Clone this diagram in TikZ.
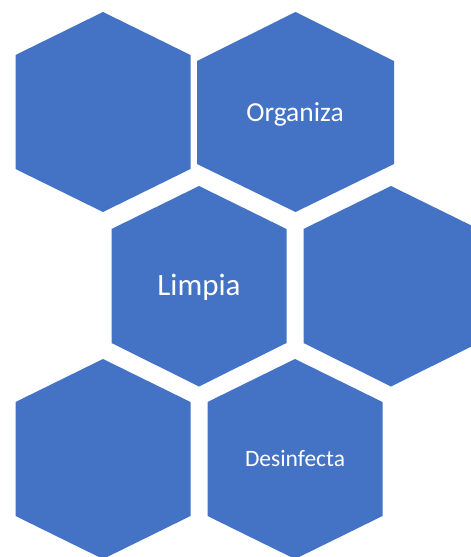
\documentclass[tikz,border=0pt]{standalone}
\usepackage{fontspec}
\setmainfont{Carlito}
\definecolor{hexblue}{HTML}{4472C4}
\begin{document}
\begin{tikzpicture}[x=1pt,y=1pt]
    \tikzstyle{every node}+=[inner sep=0pt, anchor=base, text=white]
    \clip (0,0) rectangle (471,-557);
    \fill [white] (0,0) rectangle (471,-557);
    \fill [hexblue] (103,-12) -- (190.5,-55) -- (190.5,-169) -- (103,-212) -- (15.5,-169) -- (15.5,-55) -- cycle;
    \fill [hexblue] (295.5,-12) -- (394,-61) -- (394,-164) -- (295.5,-212) -- (197,-164) -- (197,-61) -- cycle;
    \draw (295,-121) node (organiza) {\fontsize{27.5}{30}\selectfont Organiza};
    \fill [hexblue] (199,-186) -- (286.5,-229) -- (286.5,-343) -- (199,-386.5) -- (111.5,-343) -- (111.5,-229) -- cycle;
    \draw (199,-295) node (limpia) {\fontsize{31}{34}\selectfont Limpia};
    \fill [hexblue] (391,-186) -- (478.5,-229) -- (478.5,-343) -- (391,-386.5) -- (303.5,-343) -- (303.5,-229) -- cycle;
    \fill [hexblue] (103,-359) -- (190.5,-402) -- (190.5,-516) -- (103,-559) -- (15.5,-516) -- (15.5,-402) -- cycle;
    \fill [hexblue] (295,-359) -- (382.5,-402) -- (382.5,-516) -- (295,-559) -- (207.5,-516) -- (207.5,-402) -- cycle;
    \draw (295,-466.5) node (desinfecta) {\fontsize{23.5}{26}\selectfont Desinfecta};
\end{tikzpicture}
\end{document}
